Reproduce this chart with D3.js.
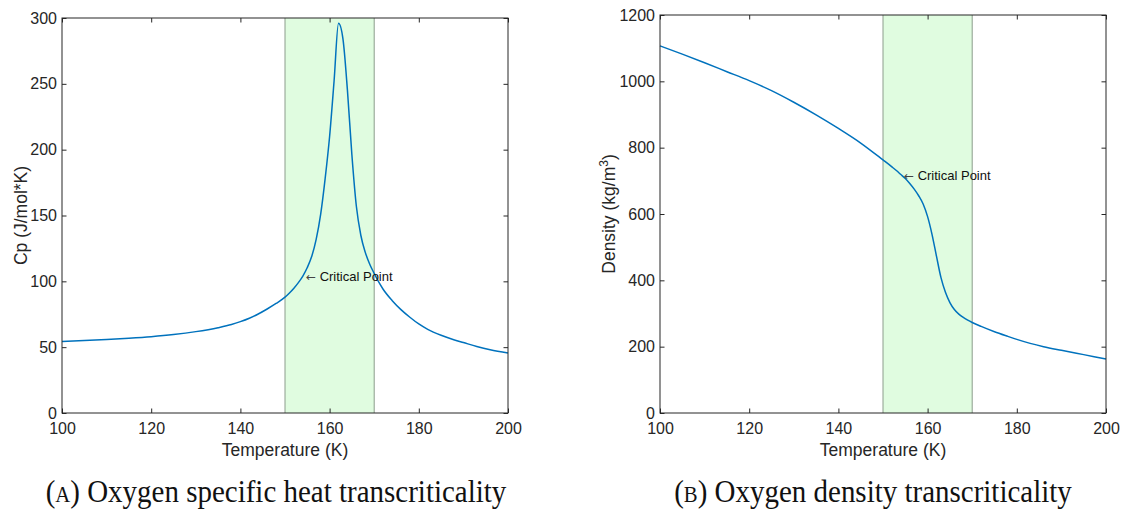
<!DOCTYPE html>
<html>
<head>
<meta charset="utf-8">
<script src="https://cdn.jsdelivr.net/npm/d3@7"></script>
<style>
  html, body { margin: 0; padding: 0; background: #fff; }
  svg { display: block; }
  .tick text { font-family: "Liberation Sans", Arial, sans-serif; font-size: 16px; fill: #262626; }
  .tick line { stroke: #262626; stroke-width: 1; }
</style>
</head>
<body>
<svg id="fig" width="1124" height="516"></svg>
<script>
// Temperature samples (K) and isobaric specific heat of oxygen (J/mol*K)
const cpTemps = [100, 105, 110, 115, 120, 125, 130, 135, 138, 140, 142, 144, 146, 148, 150,
  151, 152, 153, 154, 155, 156, 157, 158, 159, 160, 161, 162, 163, 164, 165, 166, 167, 168,
  169, 170, 171, 172, 174, 176, 178, 180, 182, 185, 188, 190, 193, 196, 200];
const cpValues = [54.3, 55.0, 55.8, 56.8, 58.0, 59.6, 61.8, 64.8, 67.2, 69.4, 72.0, 75.2, 79.0, 83.2, 88.0,
  91.2, 94.8, 99, 104, 110.5, 119, 132, 151, 178, 210, 252, 296, 284, 245, 196, 157, 135, 122,
  113, 106, 99.5, 94, 85.5, 78.5, 72.7, 67.6, 63.5, 59, 55.5, 53.5, 50.5, 48, 45.5];

// Temperature samples (K) and density of oxygen (kg/m^3)
const rhoTemps = [100, 105, 110, 115, 120, 125, 130, 135, 140, 145, 150, 152, 153, 154, 155,
  156, 157, 158, 159, 160, 161, 162, 163, 164, 165, 166, 167, 168, 169, 170, 172, 175, 178,
  180, 183, 186, 190, 195, 200];
const rhoValues = [1107, 1082, 1056, 1029, 1002, 972, 937, 899, 858, 814, 763, 742, 731, 719, 707,
  692, 675, 655, 630, 592, 538, 472, 408, 364, 333, 312, 298, 288, 280, 273, 261, 245, 231,
  222, 210, 200, 189, 176, 163];

// Axis ticks
const tempTicks = [100, 120, 140, 160, 180, 200];
const cpTicks = [0, 50, 100, 150, 200, 250, 300];
const rhoTicks = [0, 200, 400, 600, 800, 1000, 1200];

// Transcritical band and critical-point annotation anchors
const bandRange = [150, 170];
const criticalLabelT = 154.7;
const cpCriticalLabel = 104;
const rhoCriticalLabel = 717;

const captions = ["Oxygen specific heat transcriticality", "Oxygen density transcriticality"];
const captionTags = ["a", "b"];

const svg = d3.select("#fig");
svg.append("rect").attr("width", 1124).attr("height", 516).attr("fill", "#fff");

const textColor = "#262626";
const sans = '"Liberation Sans", Arial, sans-serif';

function drawPanel(cfg) {
  const x = d3.scaleLinear().domain([100, 200]).range([cfg.left, cfg.right]);
  const y = d3.scaleLinear().domain(cfg.yDomain).range([cfg.bottom, cfg.top]);
  const g = svg.append("g");

  // shaded transcritical region
  g.append("rect")
    .attr("x", x(bandRange[0])).attr("y", y(cfg.yDomain[1]))
    .attr("width", x(bandRange[1]) - x(bandRange[0]))
    .attr("height", y(cfg.yDomain[0]) - y(cfg.yDomain[1]))
    .attr("fill", "#e0fce0");
  bandRange.forEach(t => {
    g.append("line")
      .attr("x1", x(t)).attr("x2", x(t))
      .attr("y1", y(cfg.yDomain[0])).attr("y2", y(cfg.yDomain[1]))
      .attr("stroke", "#8c9c8c").attr("stroke-width", 1);
  });

  // property curve
  const pts = cfg.temps.map((t, i) => [t, cfg.values[i]]);
  g.append("path")
    .datum(pts)
    .attr("fill", "none")
    .attr("stroke", "#0072bd")
    .attr("stroke-width", 1.5)
    .attr("stroke-linejoin", "round")
    .attr("d", d3.line().curve(d3.curveMonotoneX).x(d => x(d[0])).y(d => y(d[1])));

  // axes with inward ticks on all four sides
  const tick = 4.5;
  const fmt = d3.format("d");
  g.append("g").attr("transform", `translate(0,${cfg.bottom})`)
    .call(d3.axisBottom(x).tickValues(tempTicks).tickFormat(fmt).tickSize(-tick).tickSizeOuter(0).tickPadding(10))
    .call(a => a.select(".domain").remove());
  g.append("g").attr("transform", `translate(0,${cfg.top})`)
    .call(d3.axisTop(x).tickValues(tempTicks).tickSize(-tick).tickSizeOuter(0).tickFormat(""))
    .call(a => a.select(".domain").remove());
  g.append("g").attr("transform", `translate(${cfg.left},0)`)
    .call(d3.axisLeft(y).tickValues(cfg.yTicks).tickFormat(fmt).tickSize(-tick).tickSizeOuter(0).tickPadding(5))
    .call(a => a.select(".domain").remove());
  g.append("g").attr("transform", `translate(${cfg.right},0)`)
    .call(d3.axisRight(y).tickValues(cfg.yTicks).tickSize(-tick).tickSizeOuter(0).tickFormat(""))
    .call(a => a.select(".domain").remove());

  // axes box
  g.append("rect")
    .attr("x", cfg.left).attr("y", cfg.top)
    .attr("width", cfg.right - cfg.left).attr("height", cfg.bottom - cfg.top)
    .attr("fill", "none").attr("stroke", textColor).attr("stroke-width", 1);

  // x-axis title
  g.append("text")
    .attr("x", (cfg.left + cfg.right) / 2).attr("y", 456)
    .attr("text-anchor", "middle")
    .attr("font-family", sans).attr("font-size", 17.5).attr("fill", textColor)
    .text("Temperature (K)");

  // y-axis title
  const yt = g.append("text")
    .attr("transform", `translate(${cfg.yTitleX},${(cfg.top + cfg.bottom) / 2}) rotate(-90)`)
    .attr("text-anchor", "middle")
    .attr("font-family", sans).attr("font-size", 17.5).attr("fill", textColor);
  cfg.yTitle(yt);

  // critical point annotation
  const ann = g.append("text")
    .attr("x", x(criticalLabelT)).attr("y", y(cfg.critical))
    .attr("dy", "0.35em")
    .attr("font-family", sans).attr("font-size", 13).attr("fill", "#111");
  ann.append("tspan").attr("font-family", '"DejaVu Sans", sans-serif').attr("font-size", 12).attr("fill", "#444").text("\u2190");
  ann.append("tspan").text(" Critical Point");

  // caption
  const cap = svg.append("text")
    .attr("transform", `translate(${cfg.captionX},502) scale(1,1.12)`)
    .attr("text-anchor", "middle")
    .attr("font-family", '"Liberation Serif", "Times New Roman", serif')
    .attr("font-size", 29).attr("fill", "#111");
  cap.append("tspan").text("(");
  cap.append("tspan").attr("font-variant", "small-caps").text(cfg.tag);
  cap.append("tspan").text(") " + cfg.caption);
}

drawPanel({
  left: 62, right: 508, top: 18, bottom: 413,
  yDomain: [0, 300], yTicks: cpTicks,
  temps: cpTemps, values: cpValues,
  critical: cpCriticalLabel,
  yTitleX: 27,
  yTitle: t => t.text("Cp (J/mol*K)"),
  captionX: 276, caption: captions[0], tag: captionTags[0]
});

drawPanel({
  left: 660, right: 1106, top: 15, bottom: 413,
  yDomain: [0, 1200], yTicks: rhoTicks,
  temps: rhoTemps, values: rhoValues,
  critical: rhoCriticalLabel,
  yTitleX: 615,
  yTitle: t => {
    t.append("tspan").text("Density (kg/m");
    t.append("tspan").attr("font-size", 12).attr("baseline-shift", "super").text("3");
    t.append("tspan").text(")");
  },
  captionX: 873, caption: captions[1], tag: captionTags[1]
});
</script>
</body>
</html>
